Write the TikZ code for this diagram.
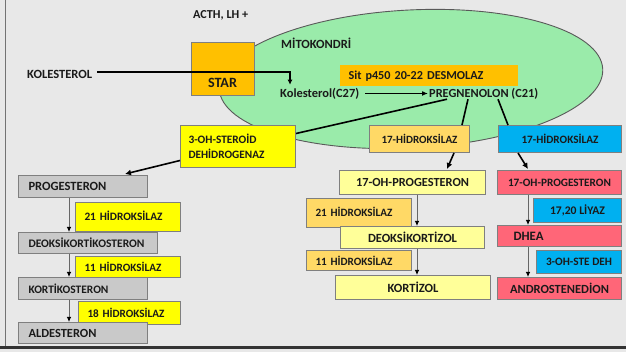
\documentclass[tikz,border=0pt]{standalone}
\usepackage{fontspec}
\usepackage{graphicx}
\setmainfont{Carlito}
\usetikzlibrary{shapes.geometric,arrows.meta,calc}
\definecolor{bg}{HTML}{E8E8E8}
\definecolor{mitog}{HTML}{9AEBAA}
\definecolor{edge}{HTML}{7F7F7F}
\definecolor{greyb}{HTML}{C9C9C9}
\definecolor{yel}{HTML}{FFFF00}
\definecolor{lyel}{HTML}{FFFF99}
\definecolor{lorg}{HTML}{FFD966}
\definecolor{org}{HTML}{FFC000}
\definecolor{blu}{HTML}{00B0F0}
\definecolor{redb}{HTML}{FF6678}
\definecolor{txt}{HTML}{1A1A1A}
\newcommand{\fw}[2]{\resizebox{#1pt}{!}{#2}}
\tikzset{
  bx/.style={draw=edge, line width=1pt, anchor=north west, inner ysep=0pt, inner xsep=0pt,
     font=\bfseries\fontsize{12}{15}\selectfont, text=txt, align=center},
  lbox/.style={bx, align=left},
  gbox/.style={lbox, fill=greyb},
  lbl/.style={font=\bfseries\fontsize{12}{13}\selectfont, text=txt, inner sep=1pt},
  thinarr/.style={draw=black!60, line width=0.8pt, -{Latex[length=5pt,width=4.5pt,color=black]}},
  thickarr/.style={draw=black, line width=1.6pt, -{Latex[length=6pt,width=6pt]}},
  thickln/.style={draw=black, line width=1.6pt},
}
\begin{document}
\begin{tikzpicture}[x=1pt,y=-1pt]
\path[fill=bg] (0,0) rectangle (626,352);
\useasboundingbox (0,0) rectangle (626,352);
\draw[black!55, line width=0.8pt] (5,0) -- (5,347);
\draw[black!80, line width=2.5pt] (0,347.5) -- (626,347.5);

% mitochondrion
\node[ellipse, draw=black!65, line width=0.9pt, fill=mitog, minimum width=384pt, minimum height=138pt, inner sep=0pt, rotate=3] (mito) at (411,79) {};
\node[lbl, anchor=west] (mitot) at (280,43) {\fw{70}{MİTOKONDRİ}};
\node[lbl, anchor=west] (acth) at (192,15) {\fw{55}{ACTH, LH +}};

% STAR
\node[bx, fill=org, minimum width=63pt, minimum height=53pt] (star) at (191,42) {};
\node[lbl] (start) at (222.5,83) {\fw{29}{STAR}};

% cholesterol
\node[lbl, anchor=west] (kol) at (26,74) {\fw{65}{KOLESTEROL}};
\node[lbl, anchor=west] (kolc) at (279,93.5) {\fw{79}{Kolesterol(C27)}};
\node[lbl, anchor=west] (preg) at (428,93.5) {\fw{109}{PREGNENOLON (C21)}};
\node[lbox, draw=none, fill=org, minimum height=21pt, text width=160pt, inner xsep=9pt] (sit) at (339,65) {\fw{135}{Sit p450 20-22 DESMOLAZ}};

\coordinate (kolend) at ($(kolc.north west)+(11,-2)$);
\draw[line width=1.5pt, -{Latex[length=5pt,width=5pt]}] ($(kol.east)+(4,-2)$) -| (kolend);
\draw[line width=1.5pt, -{Latex[length=6pt,width=5pt]}] ($(kolc.east)+(5,0)$) -- (preg.west);

% enzymes under pregnenolone
\node[lbox, fill=yel, minimum height=42pt, text width=99pt, inner xsep=8pt] (hsd) at (180,125) {\fw{68}{3-OH-STEROİD}\\\fw{76}{DEHİDROGENAZ}};
\node[bx, fill=lorg, minimum width=100pt, minimum height=27pt] (h17o) at (369,125) {\fw{76}{17-HİDROKSİLAZ}};
\node[bx, fill=blu, minimum width=123pt, minimum height=27pt] (h17b) at (498,125) {\fw{77}{17-HİDROKSİLAZ}};

\draw[thickln] ($(preg.south west)+(19,-1)$) -- ($(hsd.east)+(0,-13)$);
\draw[thickln] ($(preg.south west)+(40,-1)$) -- ($(h17o.north west)+(93,0)$);
\draw[thickln] ($(preg.south west)+(70,-1)$) -- ($(h17b.north west)+(10,0)$);

% left column
\node[gbox, minimum height=22pt, text width=109pt, inner xsep=10pt] (prog) at (18,175) {\fw{78}{PROGESTERON}};
\node[lbox, fill=yel, minimum height=29pt, text width=87pt, inner xsep=9pt] (h21a) at (75,202) {\raisebox{3pt}{\fw{78}{21 HİDROKSİLAZ}}};
\node[gbox, minimum height=21pt, text width=119pt, inner xsep=10pt] (deok) at (18,232) {\fw{116}{DEOKSİKORTİKOSTERON}};
\node[lbox, fill=yel, minimum height=21pt, text width=87pt, inner xsep=9pt] (h11a) at (75,256) {\raisebox{-1.5pt}{\fw{77}{11 HİDROKSİLAZ}}};
\node[gbox, minimum height=22pt, text width=109pt, inner xsep=10pt] (kort) at (18,277) {\fw{80}{KORTİKOSTERON}};
\node[lbox, fill=yel, minimum height=23pt, text width=84pt, inner xsep=9pt] (h18a) at (78,301) {\fw{77}{18 HİDROKSİLAZ}};
\node[gbox, minimum height=21pt, text width=109pt, inner xsep=10pt] (ald) at (18,322) {\fw{68}{ALDESTERON}};
\coordinate (colA) at (69,0);
\draw[thinarr] (prog.south -| colA) -- (deok.north -| colA);
\draw[thinarr] (deok.south -| colA) -- (kort.north -| colA);
\draw[thinarr] (kort.south -| colA) -- (ald.north -| colA);
\draw[thickarr] ($(hsd.west)+(0,14)$) -- ($(prog.north west)+(107,-1)$);

% middle column
\node[bx, fill=lyel, minimum width=146pt, minimum height=24pt] (m17) at (339,170) {\fw{113}{17-OH-PROGESTERON}};
\node[lbox, fill=lorg, minimum height=29pt, text width=87pt, inner xsep=9pt] (m21) at (306,198) {\raisebox{2.5pt}{\fw{77}{21 HİDROKSİLAZ}}};
\node[bx, fill=lyel, minimum width=144pt, minimum height=22pt] (mdeo) at (340,226) {\fw{89}{DEOKSİKORTİZOL}};
\node[lbox, fill=lorg, minimum height=20pt, text width=87pt, inner xsep=9pt] (m11) at (306,250) {\fw{77}{11 HİDROKSİLAZ}};
\node[bx, fill=lyel, minimum width=155pt, minimum height=24pt] (mkor) at (335,275) {\fw{51}{KORTİZOL}};
\coordinate (colB) at (417,0);
\draw[thinarr] (m17.south -| colB) -- (mdeo.north -| colB);
\draw[thinarr] (mdeo.south -| colB) -- (mkor.north -| colB);
\draw[thickarr] ($(h17o.south west)+(85,0)$) -- ($(m17.north west)+(108,-1)$);

% right column
\node[bx, fill=redb, minimum width=124pt, minimum height=24pt] (r17) at (497,170) {\fw{103}{17-OH-PROGESTERON}};
\node[bx, fill=blu, minimum width=88pt, minimum height=24pt] (r1720) at (533,198) {\fw{55}{17,20 LİYAZ}};
\node[lbox, fill=redb, minimum height=21pt, text width=92pt, inner xsep=16pt] (dhea) at (497,225) {\fw{30}{DHEA}};
\node[bx, fill=blu, minimum width=85pt, minimum height=23pt] (r3oh) at (536,250) {\fw{66}{3-OH-STE DEH}};
\node[bx, fill=redb, minimum width=124pt, minimum height=22pt] (andr) at (497,277) {\fw{99}{ANDROSTENEDİON}};
\coordinate (colC) at (528,0);
\draw[thinarr] (r17.south -| colC) -- (dhea.north -| colC);
\draw[thinarr] (dhea.south -| colC) -- (andr.north -| colC);
\draw[thickarr] ($(h17b.south west)+(20,0)$) -- ($(r17.north west)+(31,-1)$);
\end{tikzpicture}
\end{document}
